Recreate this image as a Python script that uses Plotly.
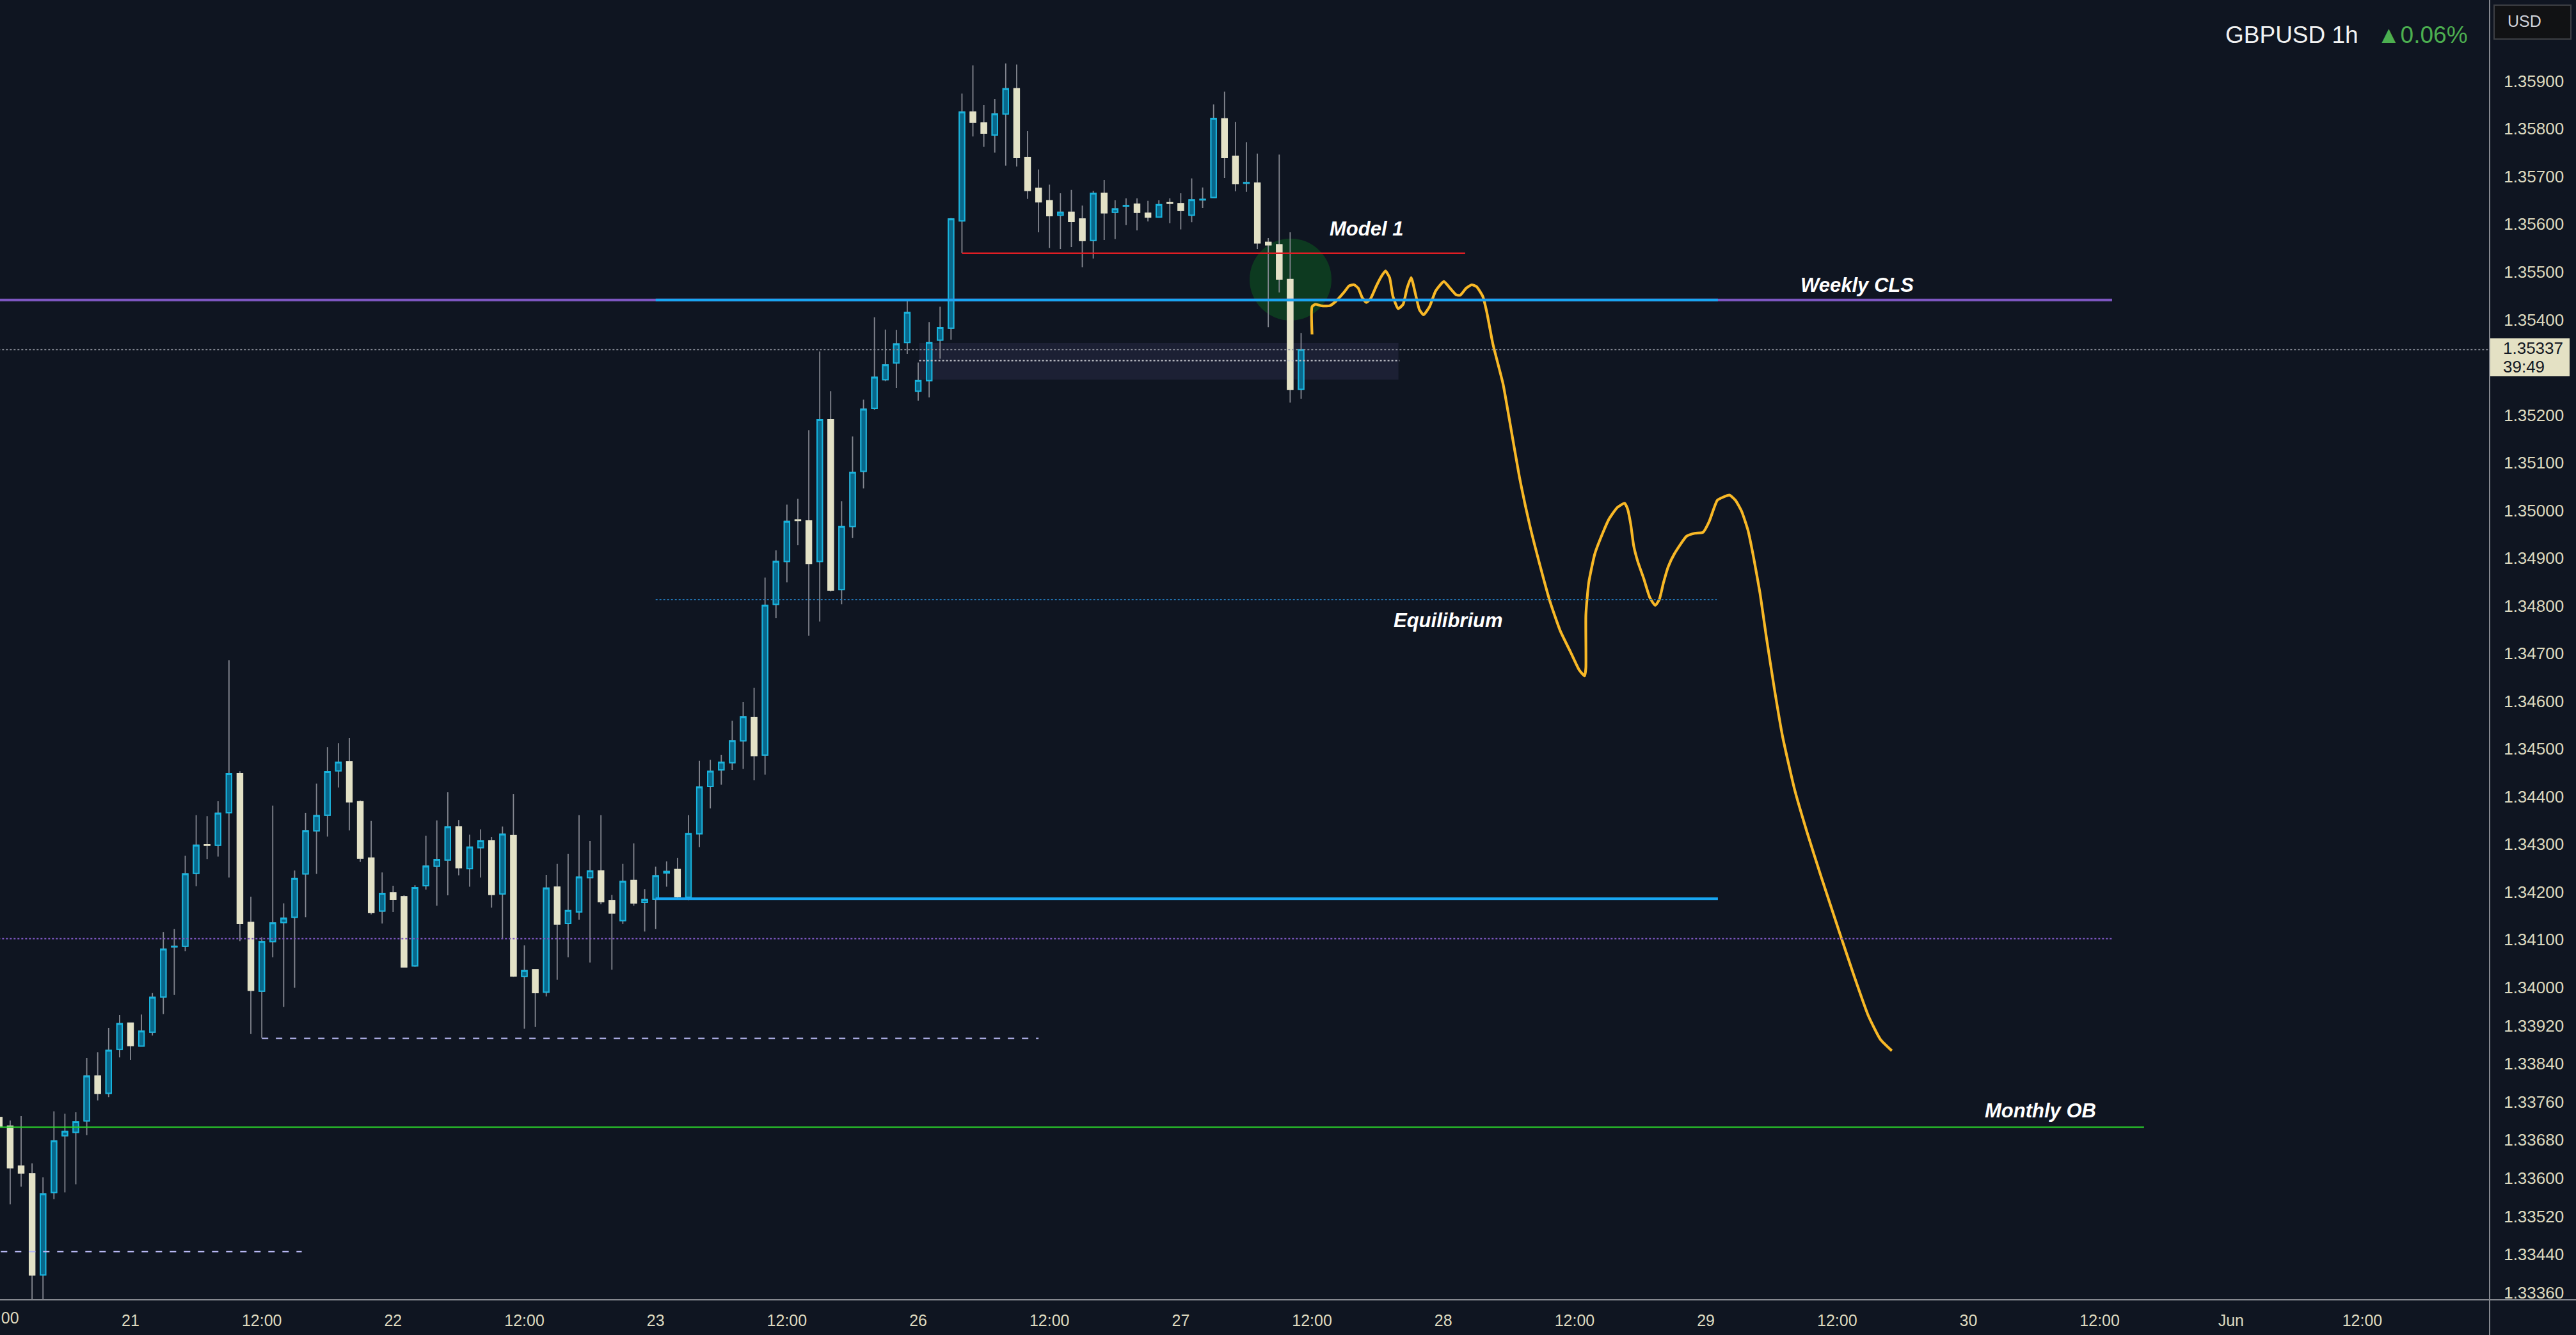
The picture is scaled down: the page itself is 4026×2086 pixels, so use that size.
import numpy as np
import plotly.graph_objects as go

# ---------------- data (hourly GBPUSD bars, weekend hours removed; index 0 = 20 May 12:00) ----------------
bar_open = [1.33727, 1.33709, 1.33625, 1.33609, 1.33397, 1.33570, 1.33689, 1.33696, 1.33720, 1.33814,
            1.33778, 1.33870, 1.33925, 1.33877, 1.33906, 1.33980, 1.34085, 1.34086, 1.34239, 1.34299,
            1.34298, 1.34366, 1.34448, 1.34136, 1.33992, 1.34096, 1.34136, 1.34147, 1.34238, 1.34328,
            1.34361, 1.34454, 1.34473, 1.34389, 1.34271, 1.34160, 1.34198, 1.34190, 1.34045, 1.34213,
            1.34254, 1.34267, 1.34336, 1.34249, 1.34293, 1.34307, 1.34196, 1.34318, 1.34023, 1.34037,
            1.33990, 1.34210, 1.34134, 1.34158, 1.34230, 1.34244, 1.34182, 1.34140, 1.34224, 1.34178,
            1.34185, 1.34240, 1.34247, 1.34189, 1.34322, 1.34421, 1.34456, 1.34471, 1.34517, 1.34566,
            1.34487, 1.34803, 1.34893, 1.34980, 1.34978, 1.34893, 1.35190, 1.34834, 1.34966, 1.35082,
            1.35214, 1.35274, 1.35309, 1.35352, 1.35250, 1.35272, 1.35357, 1.35382, 1.35607, 1.35835,
            1.35812, 1.35787, 1.35831, 1.35884, 1.35740, 1.35675, 1.35649, 1.35619, 1.35625, 1.35611,
            1.35566, 1.35665, 1.35625, 1.35638, 1.35642, 1.35623, 1.35615, 1.35645, 1.35643, 1.35619,
            1.35651, 1.35656, 1.35821, 1.35742, 1.35686, 1.35686, 1.35562, 1.35557, 1.35484, 1.35254]
bar_high = [1.33840, 1.33721, 1.33730, 1.33631, 1.33602, 1.33740, 1.33735, 1.33738, 1.33852, 1.33864,
            1.33915, 1.33942, 1.33925, 1.33943, 1.33988, 1.34116, 1.34122, 1.34276, 1.34361, 1.34359,
            1.34390, 1.34686, 1.34453, 1.34190, 1.34105, 1.34381, 1.34176, 1.34245, 1.34366, 1.34427,
            1.34504, 1.34512, 1.34523, 1.34392, 1.34349, 1.34241, 1.34213, 1.34193, 1.34214, 1.34318,
            1.34350, 1.34409, 1.34351, 1.34320, 1.34331, 1.34315, 1.34337, 1.34405, 1.34088, 1.34037,
            1.34236, 1.34259, 1.34280, 1.34361, 1.34307, 1.34361, 1.34194, 1.34259, 1.34302, 1.34206,
            1.34253, 1.34264, 1.34271, 1.34361, 1.34475, 1.34477, 1.34487, 1.34559, 1.34598, 1.34628,
            1.34859, 1.34916, 1.35012, 1.35024, 1.35168, 1.35333, 1.35250, 1.35019, 1.35155, 1.35232,
            1.35405, 1.35379, 1.35378, 1.35443, 1.35310, 1.35395, 1.35427, 1.35613, 1.35874, 1.35933,
            1.35850, 1.35862, 1.35937, 1.35935, 1.35795, 1.35715, 1.35683, 1.35665, 1.35672, 1.35639,
            1.35670, 1.35693, 1.35650, 1.35654, 1.35654, 1.35649, 1.35650, 1.35654, 1.35665, 1.35696,
            1.35677, 1.35851, 1.35878, 1.35814, 1.35772, 1.35748, 1.35571, 1.35746, 1.35583, 1.35372]
bar_low = [1.33678, 1.33545, 1.33582, 1.33333, 1.33340, 1.33556, 1.33570, 1.33587, 1.33690, 1.33763,
           1.33770, 1.33853, 1.33848, 1.33877, 1.33899, 1.33944, 1.33984, 1.34076, 1.34212, 1.34269,
           1.34274, 1.34230, 1.34097, 1.33902, 1.33894, 1.34063, 1.33959, 1.33999, 1.34147, 1.34238,
           1.34316, 1.34419, 1.34329, 1.34263, 1.34153, 1.34134, 1.34158, 1.34042, 1.34043, 1.34205,
           1.34171, 1.34193, 1.34235, 1.34211, 1.34230, 1.34167, 1.34102, 1.34022, 1.33913, 1.33917,
           1.33981, 1.34016, 1.34063, 1.34142, 1.34052, 1.34174, 1.34037, 1.34133, 1.34171, 1.34117,
           1.34122, 1.34211, 1.34184, 1.34183, 1.34294, 1.34375, 1.34425, 1.34456, 1.34458, 1.34434,
           1.34446, 1.34774, 1.34849, 1.34927, 1.34737, 1.34767, 1.34830, 1.34803, 1.34942, 1.35046,
           1.35211, 1.35271, 1.35257, 1.35328, 1.35230, 1.35237, 1.35318, 1.35358, 1.35540, 1.35784,
           1.35762, 1.35750, 1.35723, 1.35721, 1.35653, 1.35583, 1.35550, 1.35548, 1.35552, 1.35510,
           1.35528, 1.35567, 1.35569, 1.35598, 1.35587, 1.35606, 1.35615, 1.35602, 1.35589, 1.35604,
           1.35634, 1.35655, 1.35697, 1.35669, 1.35668, 1.35548, 1.35384, 1.35457, 1.35226, 1.35234]
bar_close = [1.33709, 1.33622, 1.33611, 1.33397, 1.33567, 1.33678, 1.33698, 1.33718, 1.33814, 1.33778,
             1.33868, 1.33924, 1.33878, 1.33908, 1.33979, 1.34080, 1.34086, 1.34238, 1.34298, 1.34298,
             1.34365, 1.34448, 1.34134, 1.33994, 1.34096, 1.34135, 1.34145, 1.34228, 1.34328, 1.34360,
             1.34452, 1.34472, 1.34389, 1.34271, 1.34157, 1.34197, 1.34185, 1.34043, 1.34209, 1.34254,
             1.34268, 1.34336, 1.34251, 1.34294, 1.34307, 1.34195, 1.34321, 1.34024, 1.34035, 1.33989,
             1.34208, 1.34133, 1.34161, 1.34231, 1.34244, 1.34180, 1.34156, 1.34222, 1.34177, 1.34184,
             1.34234, 1.34243, 1.34190, 1.34322, 1.34420, 1.34453, 1.34472, 1.34517, 1.34567, 1.34486,
             1.34801, 1.34893, 1.34977, 1.34979, 1.34889, 1.35190, 1.34833, 1.34966, 1.35080, 1.35212,
             1.35279, 1.35305, 1.35349, 1.35415, 1.35272, 1.35352, 1.35383, 1.35611, 1.35835, 1.35814,
             1.35791, 1.35831, 1.35884, 1.35740, 1.35671, 1.35647, 1.35618, 1.35625, 1.35606, 1.35566,
             1.35665, 1.35624, 1.35632, 1.35639, 1.35625, 1.35615, 1.35641, 1.35644, 1.35629, 1.35651,
             1.35652, 1.35822, 1.35740, 1.35685, 1.35687, 1.35561, 1.35557, 1.35485, 1.35254, 1.35337]
bar_index = list(range(len(bar_open)))

# hand-drawn projection path (hour index, price)
proj_hour = [120.0, 120.0, 120.3, 120.86, 121.61, 122.16, 122.91, 123.4, 123.84, 124.22, 124.59, 124.96,
             125.33, 125.89, 126.27, 126.71, 127.09, 127.39, 127.87, 128.32, 128.69, 129.06, 129.44,
             129.81, 130.19, 130.74, 131.3, 132.05, 132.61, 133.17, 133.54, 134.1, 134.59, 135.04,
             135.6, 135.97, 136.53, 137.46, 138.02, 138.95, 139.88, 140.81, 141.75, 142.68, 143.61,
             144.43, 144.92, 145.03, 145.03, 145.29, 145.85, 146.6, 147.15, 147.9, 148.57, 148.83,
             149.13, 149.4, 149.77, 150.32, 150.88, 151.37, 151.74, 152.12, 152.56, 153.12, 154.24,
             154.99, 155.74, 156.29, 157.04, 157.6, 158.16, 158.71, 159.27, 159.84, 160.39, 160.95,
             161.51, 162.26, 163.01, 164.12, 165.25, 166.55, 168.23, 169.53, 170.84, 171.95, 173.0]
proj_price = [1.35369, 1.35427, 1.35432, 1.35429, 1.35429, 1.35438, 1.35457, 1.35471, 1.35473, 1.35466,
              1.35446, 1.35436, 1.35443, 1.35471, 1.35488, 1.35502, 1.35488, 1.35449, 1.35423, 1.35432,
              1.35466, 1.35488, 1.35455, 1.35421, 1.35410, 1.35427, 1.35460, 1.35480, 1.35466, 1.35452,
              1.35451, 1.35466, 1.35473, 1.35469, 1.35449, 1.35416, 1.35349, 1.35265, 1.35193, 1.35071,
              1.34971, 1.34887, 1.34809, 1.34748, 1.34704, 1.34665, 1.34653, 1.34670, 1.34781, 1.34848,
              1.34909, 1.34954, 1.34982, 1.35006, 1.35015, 1.35004, 1.34971, 1.34926, 1.34893, 1.34857,
              1.34817, 1.34801, 1.34813, 1.34848, 1.34882, 1.34909, 1.34946, 1.34952, 1.34954, 1.34976,
              1.35021, 1.35028, 1.35032, 1.35021, 1.34998, 1.34959, 1.34898, 1.34826, 1.34737, 1.34626,
              1.34526, 1.34414, 1.34325, 1.34231, 1.34114, 1.34025, 1.33941, 1.33891, 1.33867]

# key levels
weekly_cls = 1.35441
model1_level = 1.35539
equilibrium = 1.34813
range_low = 1.34186
dotted_level = 1.34102
monthly_ob = 1.33707
swing_low_a = 1.33893
swing_low_b = 1.33446
fvg_top, fvg_mid, fvg_bottom = 1.35351, 1.35314, 1.35274
last_price = 1.35337

# axis ticks
x_tick_pos = [12, 24, 36, 48, 60, 72, 84, 96, 108, 120, 132, 144, 156, 168, 180, 192, 204, 216]
x_tick_text = ["21", "12:00", "22", "12:00", "23", "12:00", "26", "12:00", "27", "12:00",
               "28", "12:00", "29", "12:00", "30", "12:00", "Jun", "12:00"]
price_ticks = [1.359, 1.358, 1.357, 1.356, 1.355, 1.354, 1.352, 1.351, 1.350, 1.349, 1.348, 1.347,
               1.346, 1.345, 1.344, 1.343, 1.342, 1.341, 1.340, 1.3392, 1.3384, 1.3376, 1.3368,
               1.3360, 1.3352, 1.3344, 1.3336]

# ---------------- styling ----------------
BG = "#0f1521"
TXT = "#ddd9bf"
WICK = "#848790"
UP_FILL = "#08678a"
UP_LINE = "#17b4de"
DOWN = "#e3e1c6"
FONT = "Liberation Sans"

W, H = 4026, 2086
ML, MR, MT, MB = 0, 135, 0, 55
PW, PH = W - ML - MR, H - MT - MB
x_range = [0.069, 227.64]
y_range = [1.333449, 1.360701]

fig = go.Figure()

# wicks (full range) and bodies (open/close only) as two candlestick layers
fig.add_trace(go.Candlestick(
    x=bar_index, open=bar_open, high=bar_high, low=bar_low, close=bar_close,
    increasing=dict(line=dict(color=WICK, width=1.8), fillcolor=WICK),
    decreasing=dict(line=dict(color=WICK, width=1.8), fillcolor=WICK),
    whiskerwidth=0, hoverinfo="skip", showlegend=False))
body_hi = np.maximum(bar_open, bar_close)
body_lo = np.minimum(bar_open, bar_close)
fig.add_trace(go.Candlestick(
    x=bar_index, open=bar_open, high=body_hi, low=body_lo, close=bar_close,
    increasing=dict(line=dict(color=UP_LINE, width=2), fillcolor=UP_FILL),
    decreasing=dict(line=dict(color=DOWN, width=2), fillcolor=DOWN),
    whiskerwidth=0, hoverinfo="skip", showlegend=False))

fig.add_trace(go.Scatter(
    x=proj_hour, y=proj_price, mode="lines",
    line=dict(color="#f8b826", width=4.2, shape="spline", smoothing=0.5),
    hoverinfo="skip", showlegend=False))

shapes = []


def hline(x0, x1, y, color, width, dash="solid", layer="above"):
    shapes.append(dict(type="line", xref="x", yref="y", x0=x0, x1=x1, y0=y, y1=y,
                       line=dict(color=color, width=width, dash=dash), layer=layer))


# FVG box and green circle (under candles)
shapes.append(dict(type="rect", xref="x", yref="y", x0=84.09, x1=127.9, y0=fvg_bottom, y1=fvg_top,
                   fillcolor="#1c2034", line=dict(width=0), layer="below"))
shapes.append(dict(type="circle", xref="x", yref="y", x0=114.29, x1=121.78, y0=1.35398, y1=1.35570,
                   fillcolor="rgba(12,100,32,0.47)", line=dict(width=0), layer="below"))

hline(-5, x_range[1], last_price, "#8a8e99", 2, "dot")
hline(84.09, 128.0, fvg_mid, "#c4c6cc", 2, "dot")
hline(-5, 193.13, weekly_cls, "#7e57c2", 4)
hline(60, 157.1, weekly_cls, "#18a6f2", 4)
hline(60, 157.0, equilibrium, "#2379bb", 1.8, "dot")
hline(60, 157.1, range_low, "#18a6f2", 4)
hline(-5, 193.1, dotted_level, "#7e57c2", 2, "dot")
hline(-5, 196.05, monthly_ob, "#2bd42b", 2)
hline(24, 95.0, swing_low_a, "#b8b9f4", 2, "10px,12px")
hline(-5, 27.65, swing_low_b, "#b8b9f4", 2, "10px,12px")
hline(88, 134.0, model1_level, "#e01e24", 2.5)

# axis frame lines
shapes.append(dict(type="line", xref="paper", yref="paper", x0=0, x1=W / PW, y0=0, y1=0,
                   line=dict(color="#85888f", width=2), layer="above"))
shapes.append(dict(type="line", xref="paper", yref="paper", x0=1, x1=1, y0=-MB / PH, y1=1,
                   line=dict(color="#85888f", width=2), layer="above"))

# last price label box + currency box
shapes.append(dict(type="rect", xref="paper", yref="y", x0=3892 / PW, x1=4016 / PW,
                   y0=1.35281, y1=1.35361, fillcolor="#e4e1c4", line=dict(width=0), layer="above"))
shapes.append(dict(type="rect", xref="paper", yref="paper", x0=3898 / PW, x1=4018 / PW,
                   y0=1 - 61 / PH, y1=1 - 8 / PH, fillcolor="#111214",
                   line=dict(color="#3d3f44", width=2), layer="above"))

label_font = dict(family=FONT, size=31, color="#ffffff", weight="bold", style="italic")
annotations = [
    dict(text="Model 1", x=124.94, y=1.35591, xref="x", yref="y", showarrow=False, font=label_font),
    dict(text="Weekly CLS", x=169.8, y=1.35472, xref="x", yref="y", showarrow=False, font=label_font),
    dict(text="Equilibrium", x=132.48, y=1.34769, xref="x", yref="y", showarrow=False, font=label_font),
    dict(text="Monthly OB", x=186.58, y=1.33741, xref="x", yref="y", showarrow=False, font=label_font),
    dict(text="GBPUSD 1h", x=3476 / PW, y=1 - 55 / PH, xref="paper", yref="paper", xanchor="left",
         yanchor="middle", showarrow=False, font=dict(family=FONT, size=37, color="#f2f2f2")),
    dict(text="▲0.06%", x=3713 / PW, y=1 - 55 / PH, xref="paper", yref="paper", xanchor="left",
         yanchor="middle", showarrow=False, font=dict(family=FONT, size=37, color="#4caf50")),
    dict(text="USD", x=3917 / PW, y=1 - 33 / PH, xref="paper", yref="paper", xanchor="left",
         yanchor="middle", showarrow=False, font=dict(family=FONT, size=25, color="#d1d4dc")),
    dict(text=f"{last_price:.5f}", x=3910 / PW, y=1.35340, xref="paper", yref="y", xanchor="left",
         yanchor="middle", showarrow=False, font=dict(family=FONT, size=26, color="#131722")),
    dict(text="39:49", x=3910 / PW, y=1.35301, xref="paper", yref="y", xanchor="left",
         yanchor="middle", showarrow=False, font=dict(family=FONT, size=26, color="#131722")),
    # first time label, partly hidden at the left edge as in the original
    dict(text="12:00", x=(0 - x_range[0]) / (x_range[1] - x_range[0]), y=-(2059 - PH) / PH,
         xref="paper", yref="paper", xanchor="center", yanchor="middle", showarrow=False,
         font=dict(family=FONT, size=25, color=TXT)),
]

fig.update_layout(
    width=W, height=H,
    margin=dict(l=ML, r=MR, t=MT, b=MB, pad=0),
    paper_bgcolor=BG, plot_bgcolor=BG,
    showlegend=False, boxgap=0.3, hovermode=False,
    shapes=shapes, annotations=annotations,
    xaxis=dict(range=x_range, showgrid=False, zeroline=False, showline=False,
               tickmode="array", tickvals=x_tick_pos, ticktext=x_tick_text,
               ticks="outside", ticklen=10, tickcolor="rgba(0,0,0,0)",
               tickfont=dict(family=FONT, size=25, color=TXT),
               rangeslider=dict(visible=False), fixedrange=True),
    yaxis=dict(range=y_range, side="right", showgrid=False, zeroline=False, showline=False,
               tickmode="array", tickvals=price_ticks, ticktext=[f"{v:.5f}" for v in price_ticks],
               ticks="outside", ticklen=16, tickcolor="rgba(0,0,0,0)",
               tickfont=dict(family=FONT, size=26, color=TXT), fixedrange=True),
)

fig.write_html("out.html", config={"displayModeBar": False})
